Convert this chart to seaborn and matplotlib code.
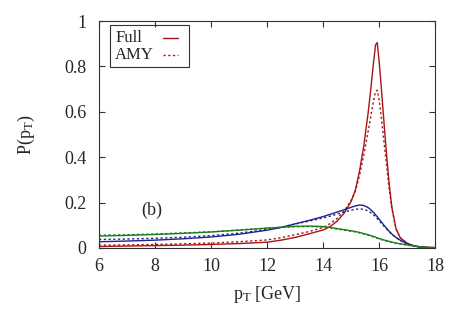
import matplotlib
matplotlib.use("Agg")
import matplotlib.pyplot as plt
from matplotlib.patches import Rectangle
import seaborn as sns
import pandas as pd

pt = [6, 7, 8, 9, 10, 11, 12, 12.5, 13, 13.5, 14, 14.25, 14.5, 14.75, 15, 15.15, 15.3, 15.45,
      15.6, 15.7, 15.8, 15.87, 15.93, 16.0, 16.08, 16.16, 16.25, 16.35, 16.45, 16.6, 16.75,
      17, 17.25, 17.5, 17.75, 18]

red_full = [.006, .008, .010, .012, .015, .019, .025, .034, .046, .062, .079, .094, .118, .153,
            .205, .255, .34, .45, .59, .70, .82, .895, .905, .82, .70, .57, .43, .29, .18, .085,
            .045, .02, .008, .004, .002, .001]
red_amy = [.012, .013, .015, .018, .021, .027, .035, .045, .058, .072, .09, .107, .13, .163, .21,
           .25, .32, .41, .51, .58, .65, .69, .695, .65, .57, .48, .38, .265, .175, .083, .044,
           .02, .008, .004, .002, .001]
blue_full = [.027, .03, .034, .04, .048, .06, .078, .09, .106, .121, .138, .148, .158, .168, .179,
             .185, .189, .187, .178, .168, .156, .146, .137, .126, .114, .101, .088, .074, .061,
             .046, .034, .018, .008, .003, .001, .0005]
blue_amy = [.037, .039, .042, .047, .054, .065, .081, .091, .105, .118, .132, .14, .149, .158,
            .166, .17, .172, .17, .163, .155, .145, .137, .129, .119, .108, .097, .085, .072,
            .06, .045, .033, .017, .008, .003, .001, .0005]
green_full = [.052, .055, .059, .064, .07, .078, .087, .091, .095, .096, .094, .09, .085, .08,
              .075, .072, .068, .063, .058, .054, .05, .047, .044, .041, .038, .035, .032, .029,
              .026, .021, .018, .013, .008, .004, .002, .001]
green_amy = [.056, .058, .061, .066, .071, .079, .087, .09, .093, .094, .092, .088, .083, .078,
             .073, .07, .066, .061, .056, .052, .048, .045, .042, .039, .036, .033, .030, .027,
             .024, .02, .017, .012, .007, .004, .002, .001]

x_ticks = [6, 8, 10, 12, 14, 16, 18]
y_ticks = [0, 0.2, 0.4, 0.6, 0.8, 1]
y_labels = ["0", "0.2", "0.4", "0.6", "0.8", "1"]
legend_labels = ["Full", "AMY"]

sns.set_theme(style="ticks")
plt.rcParams['font.family'] = ['Liberation Serif', 'DejaVu Serif']
plt.rcParams['mathtext.fontset'] = 'custom'
plt.rcParams['mathtext.rm'] = 'Liberation Serif'
plt.rcParams['mathtext.it'] = 'Liberation Serif'

fig = plt.figure(figsize=(4.63, 3.24), dpi=100)
ax = fig.add_axes([0.214, 0.235, 0.726, 0.70])

RED = "#a81414"
BLUE = "#22228c"
GREEN = "#1d7d1d"
dot = (0, (1.6, 1.8))

series = [
    (red_full, RED, "-"),
    (red_amy, RED, dot),
    (blue_full, BLUE, "-"),
    (blue_amy, BLUE, dot),
    (green_full, GREEN, "-"),
    (green_amy, GREEN, dot),
]
for vals, col, ls in series:
    df = pd.DataFrame({"pt": pt, "P": vals})
    sns.lineplot(data=df, x="pt", y="P", color=col, linestyle=ls, linewidth=1.0,
                 ax=ax, legend=False)

ax.set_xlim(6, 18)
ax.set_ylim(0, 1)
ax.set_xticks(x_ticks)
ax.set_xticklabels([str(t) for t in x_ticks])
ax.set_yticks(y_ticks)
ax.set_yticklabels(y_labels)
ax.tick_params(direction="in", top=True, right=True, labelsize=13, length=4,
               color="#333333", width=0.8)
ax.tick_params(axis="x", pad=7)
ax.tick_params(axis="y", pad=9)
for s in ax.spines.values():
    s.set_color("#333333")
    s.set_linewidth(0.8)
ax.set_xlabel(r"p$_\mathrm{T}$ [GeV]", fontsize=13, labelpad=7)
ax.set_ylabel(r"P(p$_\mathrm{T}$)", fontsize=13, labelpad=20)

ax.text(7.5, 0.145, "(b)", fontsize=13)

# legend box (gnuplot style: label then sample)
ax.add_patch(Rectangle((0.033, 0.797), 0.235, 0.185, transform=ax.transAxes,
                       fill=False, edgecolor="#333333", linewidth=0.8, zorder=5))
for lab, yy, ls in zip(legend_labels, [0.925, 0.852], ["-", dot]):
    ax.text(0.048, yy, lab, transform=ax.transAxes, fontsize=12, va="center", ha="left")
    ax.plot([0.19, 0.235], [yy, yy], transform=ax.transAxes, color=RED, linestyle=ls,
            linewidth=1.0)

fig.savefig("out.png", dpi=100)
